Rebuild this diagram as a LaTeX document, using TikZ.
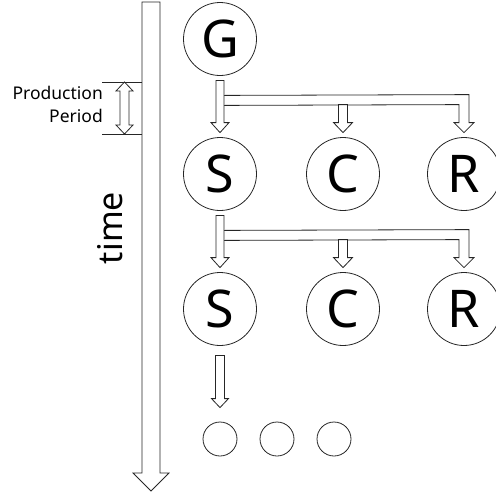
\documentclass[tikz,border=0pt]{standalone}
\usepackage{fontspec}
\setmainfont{Noto Sans}
\usetikzlibrary{calc}
\tikzset{
 state/.style={circle,draw=black!85,line width=0.8pt,minimum size=73pt,inner sep=0pt,font=\fontsize{52}{52}\selectfont},
 dot/.style={circle,draw=black!85,line width=0.8pt,minimum size=34pt,inner sep=0pt},
 fat/.style={draw=black!85,line width=0.8pt,fill=white,line join=miter}
}
\begin{document}
\begin{tikzpicture}[x=1pt,y=-1pt]
 \useasboundingbox (0,0) rectangle (496,493);
 % time axis
 \draw[fat] (142,2) -- (160,2) -- (160,473) -- (169,473) -- (151,491)
 -- (133,473) -- (142,473) -- cycle;
 \node[rotate=90,anchor=base,font=\fontsize{34}{34}\selectfont] (time) at (122,228) {time};
 % production period
 \draw[line width=0.8pt,black!85] (102,82) -- (142,82) (102,134) -- (142,134);
 \draw[fat] (124.5,82) -- (133,91) -- (129,91) -- (129,125) -- (133,125)
 -- (124.5,134) -- (116,125) -- (120,125) -- (120,91) -- (116,91) -- cycle;
 \node[align=right,anchor=north east,inner sep=0pt,font=\fontsize{17.5}{23}\selectfont] (period) at (103,86) {Production\\Period};
 % states
 \node[state] (g) at (220,39) {G};
 \node[state] (s1) at (220,174) {S};
 \node[state] (c1) at (343,174) {C};
 \node[state] (r1) at (464,174) {R};
 \node[state] (s2) at (220,309) {S};
 \node[state] (c2) at (343,309) {C};
 \node[state] (r2) at (464,309) {R};
 \node[dot] (d1) at (220,439) {};
 \node[dot] (d2) at (277,439) {};
 \node[dot] (d3) at (334,439) {};
 % branching arrows
 \foreach \a/\s/\c/\r in {g/s1/c1/r1,s1/s2/c2/r2}{
 \draw[fat] ($(\a.south)+(4,19.5)$) -- ($(\r.north)+(5,-42.5)$)
 -- ($(\r.north)+(5,-14.5)$) -- ++(5,0) -- ++(-10,10) -- ++(-10,-10) -- ++(5,0)
 -- ($(\r.north)+(-5,-32.5)$) -- ($(\a.south)+(4,29.5)$);
 \draw[fat] ($(\c.north)+(-4.5,-32.5)$) -- ++(9,0) -- ($(\c.north)+(4.5,-14.5)$)
 -- ++(5,0) -- ++(-9.5,10) -- ++(-9.5,-10) -- ++(5,0) -- cycle;
 \draw[fat] ($(\a.south)+(-4,4.5)$) -- ++(8,0) -- ($(\s.north)+(4,-14.5)$)
 -- ++(5,0) -- ++(-9,10) -- ++(-9,-10) -- ++(5,0) -- cycle;
 }
 \draw[fat] ($(s2.south)+(-4.5,9.5)$) -- ++(9,0) -- ($(d1.north)+(4.5,-23)$)
 -- ++(4,0) -- ++(-8.5,9) -- ++(-8.5,-9) -- ++(4,0) -- cycle;
\end{tikzpicture}
\end{document}
